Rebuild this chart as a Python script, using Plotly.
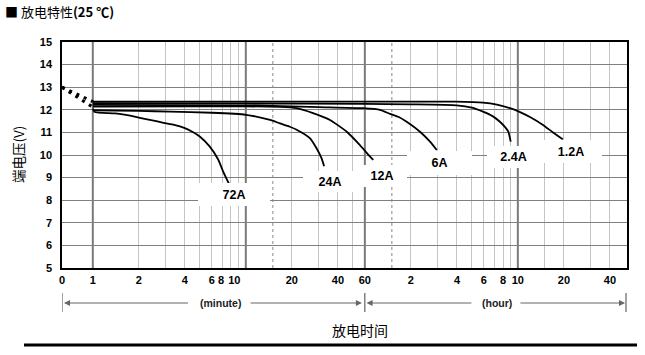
import math
import plotly.graph_objects as go

# ---------------- data ----------------
T0 = 0.629          # position of "0" on the log time axis (minutes)
X_MAX = 3102        # right edge of the time axis (minutes)

# discharge curves: time in minutes, terminal voltage in V
t_72A = [1, 1.03, 1.4, 1.94, 2.9, 3.4, 3.96, 4.5, 5.0, 5.8, 6.6, 7.1, 7.8]
v_72A = [12.05, 11.9, 11.84, 11.68, 11.42, 11.33, 11.2, 11.02, 10.82, 10.38, 9.8, 9.28, 8.7]

t_24A = [1, 2, 3.2, 6, 10, 14.4, 16.7, 19.4, 21.5, 26.3, 29, 31.3, 32.5]
v_24A = [11.98, 11.95, 11.92, 11.87, 11.78, 11.55, 11.4, 11.25, 11.12, 10.74, 10.3, 9.85, 9.5]

t_12A = [1, 5, 10, 16.7, 21.5, 27.5, 35.5, 45.7, 55.7, 64.9, 68.1]
v_12A = [12.14, 12.15, 12.15, 12.13, 12.07, 11.85, 11.55, 11.03, 10.44, 9.93, 9.78]

t_6A = [1, 10, 30, 58.3, 75.3, 87.7, 100, 112.6, 137.6, 160, 177]
v_6A = [12.22, 12.2, 12.12, 12.07, 12.0, 11.82, 11.68, 11.47, 11.03, 10.59, 10.22]

t_2_4A = [1, 10, 60, 120, 239, 300, 355, 410, 458, 500, 520, 539]
v_2_4A = [12.29, 12.28, 12.26, 12.24, 12.2, 12.1, 11.92, 11.72, 11.47, 11.2, 11.03, 10.59]

t_1_2A = [1, 10, 60, 233, 355, 438, 533, 620, 720, 876, 1018, 1180]
v_1_2A = [12.36, 12.36, 12.36, 12.36, 12.32, 12.23, 12.07, 11.9, 11.68, 11.33, 11.0, 10.7]

# initial (dotted) part from t=0 to 1 minute
t_init = [T0, 1]
v_init_hi = [13.0, 12.36]
v_init_lo = [13.0, 12.12]

# curve labels
label_text = ["72A", "24A", "12A", "6A", "2.4A", "1.2A"]
label_t = [8.37, 35.5, 77.7, 184.5, 562, 1335]
label_v = [8.27, 8.82, 9.08, 9.66, 9.92, 10.17]
label_w = [72, 54, 50, 65, 53, 62]
label_h = [23, 21, 22, 24, 22, 23]

# x-axis tick labels (minutes) and text
x_tick_vals = [T0, 1, 2, 4, 6, 6.89, 8.41, 20, 40, 60, 120, 240, 360, 480, 600, 1200, 2400]
x_tick_text = ["0", "1", "2", "4", "6", "8", "10", "20", "40", "60",
               "2", "4", "6", "8", "10", "20", "40"]

# grid lines (minutes)
grid_light = [2, 3, 4, 5, 6, 7, 8, 9, 20, 30, 40, 50,
              120, 180, 240, 300, 360, 420, 480, 540, 900, 1200, 1800, 2400]
grid_dark = [1, 10, 60, 600]
grid_dotted = [15, 90]

y_ticks = list(range(5, 16))

# ---------------- figure ----------------
FONT = "Liberation Sans, Arial, sans-serif"
CJK = "Noto Sans CJK SC, sans-serif"

fig = go.Figure()

line_style = dict(color="black", width=1.8, shape="spline", smoothing=0.5)
for t, v in [(t_1_2A, v_1_2A), (t_2_4A, v_2_4A), (t_6A, v_6A),
             (t_12A, v_12A), (t_24A, v_24A), (t_72A, v_72A)]:
    fig.add_trace(go.Scatter(x=t, y=v, mode="lines", line=line_style,
                             hoverinfo="skip", showlegend=False))

for v in (v_init_hi, v_init_lo):
    fig.add_trace(go.Scatter(x=t_init, y=v, mode="lines",
                             line=dict(color="black", width=3.2, dash="3px,5px"),
                             hoverinfo="skip", showlegend=False))

# plot geometry (pixels)
L, R, T, B = 62, 18, 42, 87
W = 645 - L - R
H = 355 - T - B


def py(ypx):
    return (355 - B - ypx) / H


def px(xpx):
    return (xpx - L) / W


shapes = []
for g in grid_dark:
    shapes.append(dict(type="line", xref="x", yref="paper", x0=g, x1=g, y0=0, y1=1,
                       line=dict(color="#7a7a7a", width=2), layer="between"))
for g in grid_dotted:
    shapes.append(dict(type="line", xref="x", yref="paper", x0=g, x1=g, y0=0, y1=1,
                       line=dict(color="#b0b0b0", width=1.5, dash="dot"), layer="between"))

# bracket bars under the axis
for b in [T0, 60, X_MAX * 0.985]:
    shapes.append(dict(type="line", xref="x", yref="paper", x0=b, x1=b,
                       y0=py(293), y1=py(312), line=dict(color="#444", width=1)))
# bottom rule
shapes.append(dict(type="line", xref="paper", yref="paper", x0=px(24), x1=px(637),
                   y0=py(345), y1=py(345), line=dict(color="black", width=3)))

annotations = []
for txt, t, v, w, h in zip(label_text, label_t, label_v, label_w, label_h):
    annotations.append(dict(text=txt, x=math.log10(t), y=v, xref="x", yref="y",
                            showarrow=False, bgcolor="white", width=w, height=h,
                            borderpad=0, borderwidth=0,
                            font=dict(family=FONT, size=12.5, color="black", weight="bold")))

# arrows
ARROW_Y = py(303)
for tip, tail in [(0.648, 4.29), (57.4, 10.5), (61.5, 305), (3013, 610)]:
    annotations.append(dict(text="", x=math.log10(tip), y=ARROW_Y, xref="x", yref="paper",
                            ax=math.log10(tail), ay=0, axref="x", ayref="pixel",
                            showarrow=True, arrowhead=2, arrowsize=1.1, arrowwidth=1.1,
                            arrowcolor="#666"))
annotations.append(dict(text="(minute)", x=math.log10(6.88), y=ARROW_Y, xref="x", yref="paper",
                        xanchor="center", yanchor="middle", showarrow=False,
                        font=dict(family=FONT, size=10.5, color="#222", weight="bold")))
annotations.append(dict(text="(hour)", x=math.log10(436), y=ARROW_Y, xref="x", yref="paper",
                        xanchor="center", yanchor="middle", showarrow=False,
                        font=dict(family=FONT, size=10.5, color="#222", weight="bold")))

annotations.append(dict(text="放电时间", x=px(360), y=py(330), xref="paper", yref="paper",
                        xanchor="center", yanchor="middle", showarrow=False,
                        font=dict(family=CJK, size=14, color="black")))
annotations.append(dict(text="端电压(V)", x=px(18), y=0.5, xref="paper", yref="paper",
                        xanchor="center", yanchor="middle",
                        textangle=-90, showarrow=False,
                        font=dict(family=CJK, size=13.5, color="black")))

fig.update_layout(
    width=645, height=355,
    margin=dict(l=L, r=R, t=T, b=B),
    paper_bgcolor="white", plot_bgcolor="white",
    showlegend=False,
    title=dict(text="■ 放电特性<b>(25 ℃)</b>", xref="container", yref="container",
               x=5 / 645, y=1 - 12 / 355, xanchor="left", yanchor="middle",
               font=dict(family=CJK, size=13, color="black")),
    shapes=shapes,
    annotations=annotations,
    xaxis=dict(
        type="log",
        range=[math.log10(T0), math.log10(X_MAX)],
        tickmode="array", tickvals=x_tick_vals, ticktext=x_tick_text,
        showgrid=False, zeroline=False, ticks="",
        minor=dict(tickmode="array", tickvals=grid_light, showgrid=True,
                   gridcolor="#c4c4c4", gridwidth=1.3, ticks=""),
        showline=True, mirror=True, linecolor="black", linewidth=1.5,
        tickfont=dict(family=FONT, size=11, color="black", weight="bold"),
        ticklabelstandoff=1,
    ),
    yaxis=dict(
        range=[5, 15], tickmode="array", tickvals=y_ticks,
        showgrid=True, gridcolor="#808080", gridwidth=1, zeroline=False, ticks="",
        showline=True, mirror=True, linecolor="black", linewidth=1.5,
        tickfont=dict(family=FONT, size=11, color="black", weight="bold"),
        ticklabelstandoff=6,
    ),
)

fig.write_html("out.html")
